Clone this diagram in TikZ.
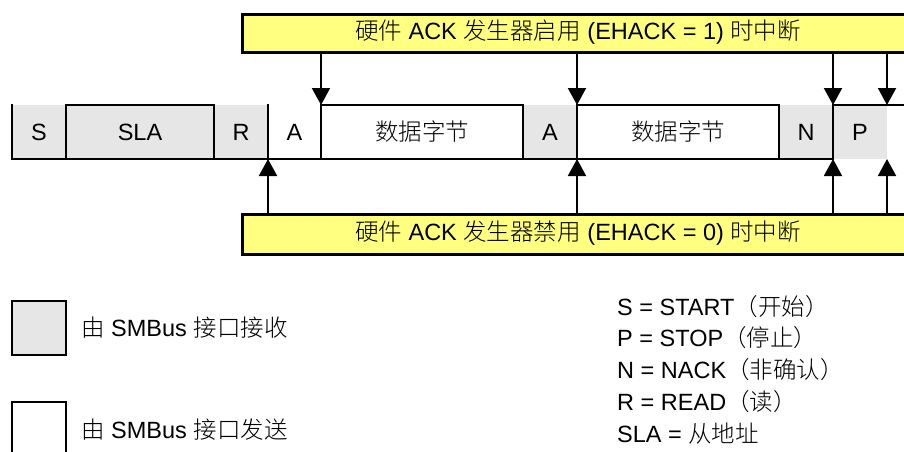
\documentclass[tikz,border=0pt]{standalone}
\usepackage{fontspec}
\setmainfont{Liberation Sans}
\newfontfamily\cjk{Noto Sans CJK SC}[UprightFont=* Light]
\newcommand{\zh}[1]{{\cjk #1}}
\usetikzlibrary{arrows.meta}
\definecolor{rxgray}{HTML}{E6E6E6}
\definecolor{ackyellow}{HTML}{FFFF80}
\begin{document}
\begin{tikzpicture}[x=1pt,y=-1pt,
  every node/.style={font=\fontsize{23.5}{28}\selectfont},
  fld/.style={minimum height=54pt, inner sep=0pt, outer sep=0pt},
  rx/.style={fld, fill=rxgray},
  tx/.style={fld, fill=white},
  ln/.style={line width=2pt, line cap=rect},
  ybox/.style={draw=black, fill=ackyellow, line width=2.5pt, inner sep=0pt},
  arr/.style={line width=2pt, -{Triangle[width=18pt,length=17pt]}},
  lbl/.style={anchor=west, inner sep=0pt}
]
\useasboundingbox (0,0) rectangle (904,451);

% header fields
\node[rx, minimum width=54pt]  (S)   at (39,132)    {S};
\node[rx, minimum width=148pt] (SLA) at (140,132)   {SLA};
\node[rx, minimum width=54pt]  (R)   at (241,132)   {R};
\node[tx, minimum width=53pt]  (A1)  at (294.5,132) {A};
\node[tx, minimum width=202pt] (D1)  at (422,132)   {\zh{数据字节}};
\node[rx, minimum width=54pt]  (A2)  at (550,132)   {A};
\node[tx, minimum width=202pt] (D2)  at (678,132)   {\zh{数据字节}};
\node[rx, minimum width=54pt]  (N)   at (806,132)   {N};
\node[rx, minimum width=54pt]  (P)   at (860,132)   {P};
\coordinate (edge) at (904,105);

% borders
\draw[ln] (S.south west) -- (N.south east);
\foreach \n in {S,SLA,R,A1,D1,A2,D2,N}
  \draw[ln] (\n.north west) -- (\n.south west);
\draw[ln] (N.north east) -- (N.south east);
\draw[ln] (SLA.north west) -- (SLA.north east);
\draw[ln] (D1.north west) -- (D1.north east);
\draw[ln] (D2.north west) -- (D2.north east);
\draw[ln] (P.north west) -- (edge);

% yellow interrupt boxes
\node[ybox, minimum width=690pt, minimum height=38pt, anchor=north west] (en) at (241,13) {};
\node at (578,32) {\zh{硬件} ACK \zh{发生器启用} (EHACK = 1) \zh{时中断}};
\node[ybox, minimum width=690pt, minimum height=40pt, anchor=north west] (dis) at (241,213) {};
\node at (578,233) {\zh{硬件} ACK \zh{发生器禁用} (EHACK = 0) \zh{时中断}};

% arrows from enabled box
\draw[arr] (en.south -| D1.north west) -- (D1.north west);
\draw[arr] (en.south -| D2.north west) -- (D2.north west);
\draw[arr] (en.south -| P.north west) -- (P.north west);
\draw[arr] (en.south -| P.north east) -- (P.north east);
% arrows from disabled box
\draw[arr] (dis.north -| A1.south west) -- (A1.south west);
\draw[arr] (dis.north -| D2.south west) -- (D2.south west);
\draw[arr] (dis.north -| P.south west) -- (P.south west);
\draw[arr] (dis.north -| P.south east) -- (P.south east);

% legend
\node[draw, line width=2pt, fill=rxgray, minimum width=54pt, minimum height=54pt, inner sep=0pt] (lrx) at (39,328) {};
\node[lbl] (lrxt) at (81,328) {\zh{由} SMBus \zh{接口接收}};
\node[draw, line width=2pt, fill=white, minimum width=54pt, minimum height=54pt, inner sep=0pt] (ltx) at (39,429) {};
\node[lbl] (ltxt) at (81,430) {\zh{由} SMBus \zh{接口发送}};

\node[lbl] (k1) at (617,307) {S = START\zh{（开始）}};
\node[lbl] (k2) at (617,338) {P = STOP\zh{（停止）}};
\node[lbl] (k3) at (617,370) {N = NACK\zh{（非确认）}};
\node[lbl] (k4) at (617,402) {R = READ\zh{（读）}};
\node[lbl] (k5) at (617,434) {SLA = \zh{从地址}};
\end{tikzpicture}
\end{document}
